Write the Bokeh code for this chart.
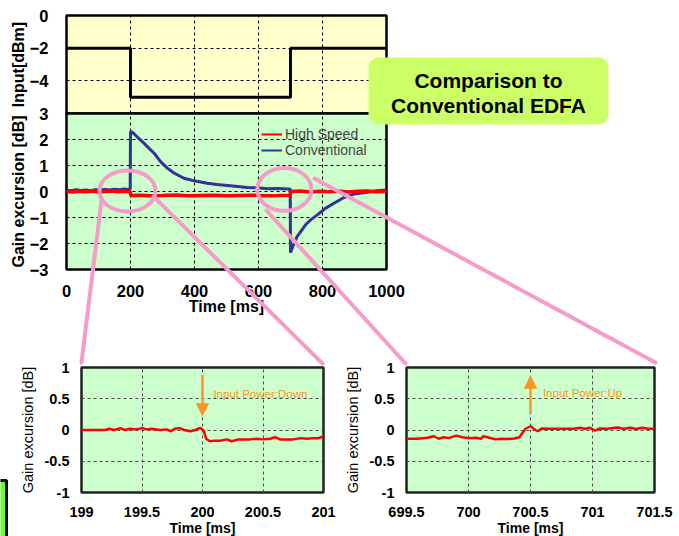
from bokeh.plotting import figure
from bokeh.models import (Range1d, FixedTicker, NumeralTickFormatter, Legend, LegendItem,
                          Label, Arrow, NormalHead, GridBox)
from bokeh.embed import file_html
from bokeh.resources import INLINE

# ---------------- data ----------------
# input power step (dBm)
in_t = [0, 200, 700, 1000]
in_p = [-2, -5, -2, -2]

# gain excursion, high speed EDFA (dB)
hs_t = [0, 20, 40, 60, 80, 100, 120, 140, 160, 180, 199, 201, 230, 260, 300, 340, 380, 420,
        460, 500, 540, 580, 620, 660, 699, 701, 730, 760, 790, 820, 850, 880, 910, 940, 970, 1000]
hs_g = [0.0, -0.02, 0.01, -0.01, 0.02, -0.02, 0.0, 0.02, -0.01, 0.01, 0.0, -0.15, -0.14, -0.16,
        -0.15, -0.13, -0.16, -0.15, -0.14, -0.16, -0.15, -0.14, -0.16, -0.15, -0.14, 0.0, 0.02,
        -0.02, 0.01, -0.01, 0.02, -0.02, 0.01, 0.02, -0.01, 0.0]

# gain excursion, conventional EDFA (dB)
cv_t = [0, 15, 30, 45, 60, 75, 90, 105, 120, 135, 150, 165, 180, 195, 199, 200, 205, 211, 225,
        242, 258, 274, 294, 315, 336, 367, 399, 440, 470, 503, 535, 565, 600, 627, 660, 690, 699,
        700, 703, 711, 721, 732, 747, 763, 784, 810, 836, 867, 898, 940, 970, 1000]
cv_g = [0.05, 0.03, 0.07, 0.04, 0.06, 0.03, 0.07, 0.05, 0.08, 0.06, 0.09, 0.07, 0.10, 0.08, 0.10,
        2.3, 2.28, 2.22, 2.05, 1.86, 1.66, 1.47, 1.15, 0.90, 0.71, 0.51, 0.41, 0.32, 0.27, 0.23,
        0.19, 0.15, 0.14, 0.11, 0.12, 0.10, 0.10, -2.35, -2.25, -2.0, -1.73, -1.54, -1.28, -1.09,
        -0.90, -0.64, -0.45, -0.23, -0.10, -0.03, 0.03, 0.06]

# zoom around the power drop (ms, dB)
z1_t = [199.0, 199.2, 199.23, 199.27, 199.32, 199.36, 199.40, 199.45, 199.50, 199.54, 199.58,
        199.65, 199.70, 199.74, 199.77, 199.81, 199.85, 199.90, 199.94, 199.98, 200.01, 200.03,
        200.06, 200.10, 200.15, 200.20, 200.24, 200.30, 200.35, 200.39, 200.45, 200.50, 200.56,
        200.60, 200.64, 200.70, 200.75, 200.81, 200.86, 200.92, 200.96, 201.0]
z1_g = [0.0, 0.0, 0.02, 0.0, 0.03, 0.0, 0.02, 0.01, 0.03, 0.01, 0.02, 0.0, 0.01, -0.02, 0.02,
        0.03, 0.0, -0.02, 0.0, 0.035, -0.01, -0.14, -0.18, -0.17, -0.17, -0.15, -0.18, -0.15,
        -0.15, -0.15, -0.14, -0.15, -0.14, -0.115, -0.15, -0.15, -0.15, -0.13, -0.14, -0.13,
        -0.13, -0.10]

# zoom around the power rise (ms, dB)
z2_t = [699.5, 699.59, 699.67, 699.72, 699.76, 699.80, 699.84, 699.90, 699.95, 700.0, 700.06,
        700.10, 700.12, 700.16, 700.22, 700.26, 700.31, 700.37, 700.41, 700.43, 700.46, 700.50,
        700.54, 700.56, 700.59, 700.63, 700.71, 700.85, 700.90, 700.94, 700.98, 701.02, 701.06,
        701.12, 701.20, 701.25, 701.31, 701.35, 701.40, 701.45, 701.5]
z2_g = [-0.14, -0.14, -0.125, -0.10, -0.14, -0.115, -0.13, -0.09, -0.115, -0.13, -0.125, -0.14,
        -0.10, -0.12, -0.15, -0.14, -0.145, -0.135, -0.115, -0.06, 0.02, 0.06, 0.0, -0.02, 0.025,
        0.02, 0.02, 0.02, 0.035, 0.02, 0.035, -0.01, 0.025, 0.02, 0.04, 0.02, 0.035, 0.015, 0.035,
        0.02, 0.02]

main_x_ticks = [0, 200, 400, 600, 800, 1000]
in_ticks = [0, -2, -4]
gain_ticks = [3, 2, 1, 0, -1, -2, -3]
z_y_ticks = [1, 0.5, 0, -0.5, -1]
z1_x_ticks = [199, 199.5, 200, 200.5, 201]
z2_x_ticks = [699.5, 700, 700.5, 701, 701.5]

# ---------------- styling ----------------
FONT = "Liberation Sans"
RED = "#FF0000"
BLUE = "#333399"
PINK = "#F79BCB"
ORANGE = "#FF9422"
YELLOW_BG = "#FFFFCC"
GREEN_BG = "#CCFFCC"


def panel(frame_w, frame_h, borders, x_range, y_range, bg, margin):
    left, top, right, bottom = borders
    p = figure(output_backend="svg", toolbar_location=None, title_location=None,
               frame_width=frame_w, frame_height=frame_h, frame_align=False,
               min_border_left=left, min_border_top=top,
               min_border_right=right, min_border_bottom=bottom,
               x_range=x_range, y_range=y_range,
               background_fill_color=bg, border_fill_color=None)
    p.margin = margin
    p.outline_line_color = "black"
    p.outline_line_width = 2.5
    for ax in p.axis:
        ax.axis_line_color = None
        ax.major_tick_line_color = None
        ax.minor_tick_line_color = None
        ax.major_label_text_font = FONT
        ax.major_label_text_font_style = "bold"
        ax.major_label_text_color = "black"
        ax.axis_label_text_font = FONT
        ax.axis_label_text_font_style = "bold"
        ax.axis_label_text_color = "black"
    for g in p.grid:
        g.grid_line_color = "black"
        g.grid_line_dash = "3 3"
        g.grid_line_width = 1
    return p


# ---------------- input power panel ----------------
x_main = Range1d(0, 1000)
p_in = panel(320, 98, (66, 15, 20, 5), x_main, Range1d(-6, 0), YELLOW_BG, (0, 0, 0, 0))
p_in.xaxis.visible = False
p_in.xgrid.ticker = FixedTicker(ticks=main_x_ticks[1:-1])
p_in.yaxis.ticker = FixedTicker(ticks=in_ticks)
p_in.ygrid.ticker = FixedTicker(ticks=in_ticks[1:])
p_in.yaxis.axis_label = "Input[dBm]"
p_in.yaxis.major_label_text_font_size = "16.5px"
p_in.yaxis.axis_label_text_font_size = "16px"
p_in.yaxis.major_label_standoff = 12
p_in.yaxis.axis_label_standoff = 0
p_in.step(in_t, in_p, mode="after", line_color="black", line_width=3)

# ---------------- gain excursion panel ----------------
p_g = panel(320, 156, (66, 13, 20, 56), x_main, Range1d(-3, 3), GREEN_BG, (100, 0, 0, 0))
p_g.xaxis.ticker = FixedTicker(ticks=main_x_ticks)
p_g.xgrid.ticker = FixedTicker(ticks=main_x_ticks[1:-1])
p_g.yaxis.ticker = FixedTicker(ticks=gain_ticks)
p_g.ygrid.ticker = FixedTicker(ticks=gain_ticks[1:-1])
p_g.xaxis.formatter = NumeralTickFormatter(format="0")
p_g.yaxis.axis_label = "Gain excursion [dB]"
p_g.xaxis.axis_label = "Time [ms]"
for ax in p_g.axis:
    ax.major_label_text_font_size = "16.5px"
    ax.axis_label_text_font_size = "16px"
p_g.yaxis.major_label_standoff = 12
p_g.yaxis.axis_label_standoff = 0
p_g.xaxis.major_label_standoff = 9
p_g.xaxis.axis_label_standoff = -2

# thin copies underneath give the legend its swatches
k_cv = p_g.line(cv_t, cv_g, line_color=BLUE, line_width=2)
r_cv = p_g.line(cv_t, cv_g, line_color=BLUE, line_width=3)
k_hs = p_g.line(hs_t, hs_g, line_color=RED, line_width=2)
r_hs = p_g.line(hs_t, hs_g, line_color=RED, line_width=3.5)
# circles marking the zoomed regions
p_g.ellipse(x=[190.6, 681], y=[0.02, 0.08], width=[175, 169], height=[1.58, 1.65],
            fill_color=None, line_color=PINK, line_width=4)

legend = Legend(items=[LegendItem(label="High Speed", renderers=[k_hs]),
                       LegendItem(label="Conventional", renderers=[k_cv])],
                location=(195, 111), background_fill_alpha=0, border_line_color=None,
                label_text_font=FONT, label_text_font_size="14px",
                glyph_width=21, glyph_height=16, label_height=16, label_standoff=3,
                spacing=0, padding=0, margin=0)
p_g.add_layout(legend, "center")


# ---------------- zoomed panels ----------------
def zoom_panel(frame_w, x_range, ticks, margin, right):
    p = panel(frame_w, 125, (76, 15, right, 44), x_range, Range1d(-1, 1), GREEN_BG, margin)
    p.outline_line_color = "#222222"
    p.outline_line_width = 2.5
    p.xaxis.ticker = FixedTicker(ticks=ticks)
    p.xgrid.ticker = FixedTicker(ticks=ticks[1:-1])
    p.yaxis.ticker = FixedTicker(ticks=z_y_ticks)
    p.ygrid.ticker = FixedTicker(ticks=z_y_ticks[1:-1])
    for g in p.grid:
        g.grid_line_color = "#4a4a4a"
    for ax in p.axis:
        ax.formatter = NumeralTickFormatter(format="0.[0]")
        ax.major_label_text_font_size = "14.5px"
        ax.axis_label_text_font_size = "14px"
    p.yaxis.major_label_standoff = 6
    p.xaxis.major_label_standoff = 8
    p.yaxis.axis_label = "Gain excursion [dB]"
    p.yaxis.axis_label_text_font_style = "normal"
    p.yaxis.axis_label_text_font_size = "14.5px"
    p.yaxis.axis_label_standoff = 6
    p.xaxis.axis_label = "Time [ms]"
    p.xaxis.axis_label_standoff = 0
    return p


p_z1 = zoom_panel(242, Range1d(199, 201), z1_x_ticks, (352, 0, 0, 5), 15)
p_z1.line(z1_t, z1_g, line_color=RED, line_width=2.5)
p_z1.add_layout(Arrow(end=NormalHead(size=12, fill_color=ORANGE, line_color=ORANGE),
                      x_start=200, y_start=0.88, x_end=200, y_end=0.23,
                      line_color=ORANGE, line_width=2.5))
p_z1.add_layout(Label(x=200.09, y=0.58, text="Input Power:Down", text_baseline="middle",
                      text_color=ORANGE, text_font=FONT, text_font_size="11.5px"))

p_z2 = zoom_panel(248, Range1d(699.5, 701.5), z2_x_ticks, (352, 0, 0, 330), 25)
p_z2.line(z2_t, z2_g, line_color=RED, line_width=2.5)
p_z2.add_layout(Arrow(end=NormalHead(size=12, fill_color=ORANGE, line_color=ORANGE),
                      x_start=700.5, y_start=0.26, x_end=700.5, y_end=0.86,
                      line_color=ORANGE, line_width=2.5))
p_z2.add_layout(Label(x=700.6, y=0.6, text="Input Power:Up", text_baseline="middle",
                      text_color=ORANGE, text_font=FONT, text_font_size="11.5px"))

# ---------------- page overlay: connectors and callout ----------------
ov = figure(output_backend="svg", toolbar_location=None, title_location=None,
            width=679, height=536, frame_align=False,
            x_range=Range1d(0, 679), y_range=Range1d(536, 0),
            x_axis_type=None, y_axis_type=None, min_border=0,
            min_border_left=0, min_border_right=0, min_border_top=0, min_border_bottom=0,
            background_fill_color=None, border_fill_color=None, outline_line_color=None)
ov.margin = (0, 0, 0, 0)
ov.segment(x0=[101, 153, 266, 314], y0=[200, 196, 210, 178],
           x1=[81, 322, 405, 655], y1=[362, 363, 363, 362],
           line_color=PINK, line_width=4, line_cap="round")
ov.quad(left=[368], right=[608], top=[57], bottom=[124], border_radius=10,
        fill_color="#CCFF66", line_color=None)
ov.text(x=[488, 488], y=[80, 105], text=["Comparison to", "Conventional EDFA"],
        text_align="center", text_baseline="middle", text_font_size="21px",
        text_font_style="bold", text_color="black", text_font={"value": FONT})
ov.quad(left=[-5], right=[6], top=[480], bottom=[545], fill_color="#66FF33",
        line_color="black", line_width=3)

page = GridBox(children=[(p_in, 0, 0), (p_g, 0, 0), (p_z1, 0, 0), (p_z2, 0, 0), (ov, 0, 0)],
               spacing=0)

open("out.html", "w").write(file_html(page, INLINE))
